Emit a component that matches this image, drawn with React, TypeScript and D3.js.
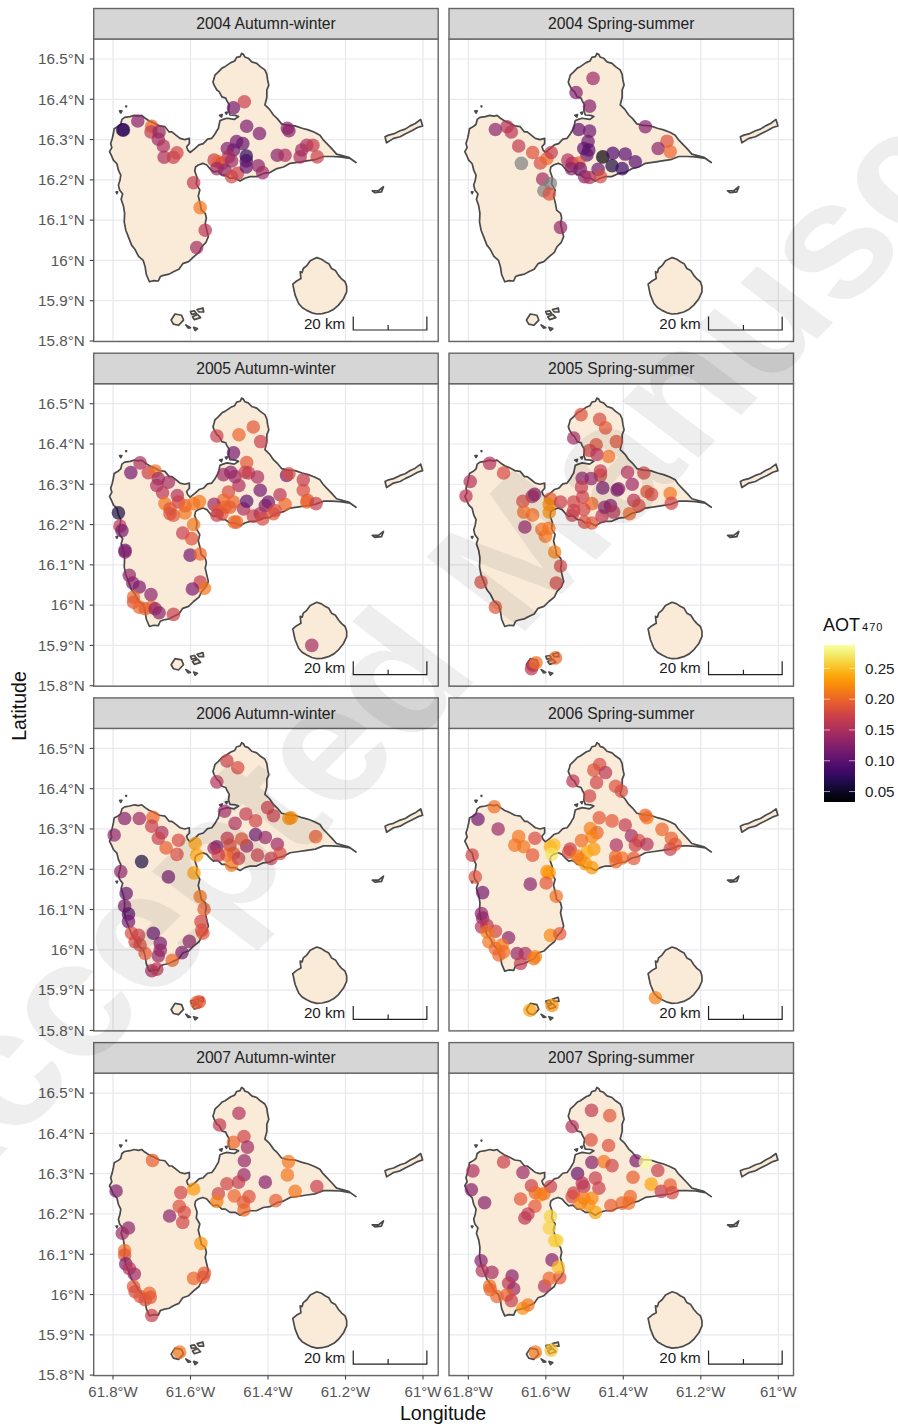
import React from "react";
import * as d3 from "d3";

type Point = [number, number, number | null];

// coastlines, lon / lat
const mainIsland: [number, number][] = [
  [-61.468,16.514],[-61.472,16.506],[-61.481,16.504],[-61.486,16.495],[-61.496,16.491],[-61.511,16.481],[-61.518,16.478],[-61.528,16.468],[-61.537,16.46],[-61.539,16.452],[-61.542,16.443],[-61.539,16.435],[-61.532,16.423],[-61.526,16.419],[-61.519,16.406],[-61.509,16.403],[-61.506,16.396],[-61.5,16.386],[-61.502,16.372],[-61.498,16.361],[-61.484,16.36],[-61.476,16.357],[-61.487,16.35],[-61.506,16.353],[-61.516,16.35],[-61.524,16.347],[-61.528,16.328],[-61.532,16.322],[-61.536,16.315],[-61.545,16.303],[-61.556,16.301],[-61.567,16.29],[-61.578,16.287],[-61.588,16.278],[-61.601,16.268],[-61.607,16.274],[-61.61,16.282],[-61.603,16.29],[-61.603,16.303],[-61.615,16.3],[-61.627,16.303],[-61.636,16.31],[-61.648,16.319],[-61.655,16.319],[-61.666,16.332],[-61.68,16.334],[-61.696,16.342],[-61.706,16.346],[-61.717,16.353],[-61.726,16.36],[-61.734,16.358],[-61.745,16.36],[-61.756,16.357],[-61.77,16.355],[-61.777,16.35],[-61.78,16.338],[-61.786,16.333],[-61.797,16.327],[-61.799,16.315],[-61.802,16.302],[-61.806,16.29],[-61.803,16.28],[-61.809,16.27],[-61.803,16.258],[-61.799,16.249],[-61.79,16.24],[-61.786,16.224],[-61.78,16.212],[-61.782,16.199],[-61.786,16.187],[-61.783,16.175],[-61.775,16.165],[-61.779,16.152],[-61.773,16.135],[-61.77,16.117],[-61.771,16.095],[-61.767,16.075],[-61.76,16.058],[-61.752,16.038],[-61.743,16.027],[-61.734,16.01],[-61.722,16],[-61.717,15.984],[-61.714,15.965],[-61.706,15.947],[-61.695,15.95],[-61.683,15.949],[-61.678,15.96],[-61.67,15.963],[-61.655,15.966],[-61.644,15.972],[-61.63,15.978],[-61.62,15.992],[-61.605,15.997],[-61.592,16.009],[-61.578,16.02],[-61.571,16.034],[-61.56,16.045],[-61.554,16.059],[-61.558,16.075],[-61.562,16.092],[-61.559,16.105],[-61.562,16.117],[-61.572,16.125],[-61.575,16.141],[-61.58,16.16],[-61.576,16.175],[-61.585,16.19],[-61.583,16.205],[-61.589,16.222],[-61.587,16.232],[-61.58,16.237],[-61.568,16.241],[-61.558,16.237],[-61.55,16.228],[-61.541,16.22],[-61.53,16.222],[-61.519,16.212],[-61.51,16.212],[-61.498,16.204],[-61.485,16.204],[-61.472,16.197],[-61.46,16.204],[-61.446,16.208],[-61.43,16.208],[-61.412,16.216],[-61.395,16.218],[-61.377,16.228],[-61.36,16.232],[-61.343,16.241],[-61.32,16.244],[-61.3,16.247],[-61.278,16.25],[-61.257,16.258],[-61.235,16.258],[-61.214,16.257],[-61.188,16.253],[-61.173,16.243],[-61.192,16.256],[-61.223,16.264],[-61.236,16.278],[-61.248,16.29],[-61.258,16.3],[-61.266,16.311],[-61.28,16.318],[-61.296,16.324],[-61.312,16.328],[-61.33,16.334],[-61.348,16.335],[-61.365,16.339],[-61.376,16.352],[-61.386,16.361],[-61.396,16.375],[-61.408,16.386],[-61.403,16.405],[-61.403,16.423],[-61.398,16.435],[-61.401,16.448],[-61.403,16.462],[-61.408,16.473],[-61.42,16.481],[-61.429,16.489],[-61.442,16.493],[-61.451,16.502],[-61.46,16.505],[-61.463,16.511],
];
const marieGalante: [number, number][] = [
  [-61.274,16.007],[-61.291,15.999],[-61.3,15.987],[-61.309,15.98],[-61.312,15.97],[-61.317,15.972],[-61.315,15.955],[-61.326,15.949],[-61.336,15.941],[-61.333,15.927],[-61.33,15.914],[-61.321,15.893],[-61.312,15.883],[-61.3,15.876],[-61.287,15.87],[-61.274,15.867],[-61.26,15.868],[-61.244,15.872],[-61.23,15.879],[-61.218,15.889],[-61.205,15.905],[-61.197,15.922],[-61.197,15.935],[-61.201,15.947],[-61.21,15.954],[-61.218,15.963],[-61.226,15.975],[-61.236,15.98],[-61.243,15.992],[-61.253,15.997],[-61.262,16.003],
];
const desirade: [number, number][] = [
  [-61.098,16.307],[-61.089,16.311],[-61.076,16.314],[-61.059,16.322],[-61.046,16.326],[-61.033,16.334],[-61.02,16.34],[-61.006,16.35],[-61.001,16.334],[-61.014,16.33],[-61.029,16.322],[-61.046,16.314],[-61.059,16.307],[-61.076,16.303],[-61.094,16.292],
];
const petiteTerre: [number, number][] = [[-61.131,16.173],[-61.115,16.173],[-61.102,16.183],[-61.107,16.17],[-61.124,16.168]];
const terreDeHaut: [number, number][] = [[-61.65,15.852],[-61.64,15.867],[-61.623,15.864],[-61.618,15.852],[-61.631,15.839],[-61.644,15.842]];
const cabrit: [number, number][] = [[-61.6,15.873],[-61.59,15.875],[-61.585,15.868],[-61.597,15.866]];
const terreDeBasNorth: [number, number][] = [[-61.583,15.878],[-61.568,15.882],[-61.566,15.872],[-61.578,15.872]];
const terreDeBasSouth: [number, number][] = [[-61.595,15.86],[-61.582,15.866],[-61.574,15.858],[-61.59,15.853]];
const iletA: [number, number][] = [[-61.612,15.84],[-61.6,15.833],[-61.606,15.832]];
const iletB: [number, number][] = [[-61.592,15.834],[-61.582,15.831],[-61.588,15.826]];
const mangroveA: [number, number][] = [[-61.525,16.36],[-61.518,16.362],[-61.52,16.356]];
const mangroveB: [number, number][] = [[-61.51,16.367],[-61.505,16.368],[-61.507,16.363]];
const rockA: [number, number][] = [[-61.783,16.371],[-61.777,16.371],[-61.78,16.366]];
const rockB: [number, number][] = [[-61.767,16.383],[-61.765,16.383],[-61.766,16.381]];
const rockC: [number, number][] = [[-61.792,16.17],[-61.788,16.17],[-61.79,16.166]];
const landShapes = [mainIsland, marieGalante, desirade, petiteTerre, terreDeHaut, cabrit, terreDeBasNorth, terreDeBasSouth, iletA, iletB, mangroveA, mangroveB, rockA, rockB, rockC];

// lon, lat, AOT (null = no value)
const aw2004: Point[] = [
  [-61.775,16.324,.085],[-61.773,16.324,.07],[-61.736,16.346,.125],[-61.7,16.333,.2],[-61.702,16.319,.165],[-61.681,16.319,.135],[-61.683,16.301,.14],[-61.67,16.284,.15],[-61.668,16.256,.15],[-61.644,16.256,.17],[-61.635,16.267,.175],
  [-61.592,16.193,.165],[-61.575,16.131,.21],[-61.562,16.075,.16],[-61.584,16.032,.145],[-61.489,16.379,.115],[-61.461,16.394,.17],[-61.455,16.333,.12],[-61.422,16.315,.12],[-61.35,16.328,.13],[-61.346,16.322,.125],
  [-61.481,16.295,.115],[-61.465,16.29,.105],[-61.505,16.278,.125],[-61.489,16.274,.11],[-61.502,16.257,.15],[-61.539,16.249,.17],[-61.528,16.245,.2],[-61.519,16.241,.18],[-61.494,16.247,.14],[-61.511,16.224,.13],[-61.532,16.228,.14],[-61.494,16.208,.18],[-61.479,16.216,.17],
  [-61.456,16.259,.07],[-61.456,16.247,.09],[-61.456,16.232,.105],[-61.425,16.235,.13],[-61.414,16.218,.14],[-61.376,16.261,.125],[-61.356,16.261,.15],[-61.317,16.257,.15],[-61.313,16.274,.145],[-61.3,16.286,.15],[-61.284,16.286,.165],[-61.273,16.257,.17],
];
const ss2004: Point[] = [
  [-61.478,16.452,.14],[-61.522,16.417,.125],[-61.487,16.383,.125],[-61.343,16.332,.125],[-61.73,16.325,.13],[-61.7,16.332,.155],[-61.689,16.319,.16],[-61.67,16.284,.165],[-61.634,16.268,.185],[-61.614,16.242,.18],[-61.597,16.253,.2],[-61.586,16.268,.165],
  [-61.663,16.241,null],[-61.608,16.202,.145],[-61.588,16.191,null],[-61.605,16.173,null],[-61.591,16.165,.185],[-61.562,16.082,.135],[-61.515,16.325,.105],[-61.487,16.321,.11],[-61.491,16.295,.11],[-61.502,16.278,.1],[-61.489,16.274,.095],[-61.494,16.262,.105],
  [-61.543,16.249,.155],[-61.532,16.241,.15],[-61.515,16.242,.19],[-61.534,16.228,.13],[-61.511,16.228,.115],[-61.5,16.208,.13],[-61.487,16.206,.15],[-61.465,16.226,.11],[-61.459,16.208,.18],
  [-61.453,16.257,.035],[-61.427,16.266,.09],[-61.429,16.235,.06],[-61.395,16.264,.095],[-61.403,16.228,.08],[-61.369,16.245,.095],[-61.287,16.296,.185],[-61.31,16.278,.13],[-61.279,16.27,.2],
];
const aw2005: Point[] = [
  [-61.73,16.353,.15],[-61.754,16.329,.115],[-61.709,16.329,.17],[-61.691,16.333,.205],[-61.683,16.314,.14],[-61.657,16.305,.145],[-61.687,16.297,.15],[-61.672,16.279,.16],[-61.634,16.272,.155],[-61.631,16.256,.17],[-61.666,16.252,.21],[-61.653,16.239,.19],[-61.644,16.223,.19],[-61.614,16.229,.21],[-61.614,16.247,.2],[-61.592,16.252,.21],[-61.577,16.257,.21],[-61.653,16.227,.185],
  [-61.786,16.229,.06],[-61.782,16.196,.16],[-61.777,16.185,.115],[-61.769,16.136,.105],[-61.769,16.132,.125],[-61.62,16.179,.17],[-61.592,16.2,.21],[-61.597,16.165,.185],[-61.601,16.124,.115],[-61.575,16.127,.2],
  [-61.758,16.074,.135],[-61.749,16.055,.125],[-61.732,16.045,.12],[-61.702,16.026,.13],[-61.747,16.02,.2],[-61.747,16.007,.19],[-61.732,15.995,.2],[-61.717,15.991,.195],[-61.7,15.995,.2],[-61.691,15.991,.13],[-61.681,15.981,.13],[-61.644,15.977,.17],
  [-61.575,16.057,.165],[-61.564,16.042,.21],[-61.595,16.04,.12],[-61.287,15.9,.145],[-61.532,16.42,.17],[-61.475,16.423,.2],[-61.438,16.442,.19],[-61.419,16.406,.17],[-61.489,16.378,.115],
  [-61.455,16.354,.19],[-61.496,16.33,.125],[-61.515,16.324,.14],[-61.485,16.319,.14],[-61.459,16.33,.17],[-61.45,16.328,.165],[-61.427,16.318,.15],[-61.475,16.297,.15],[-61.42,16.285,.115],
  [-61.502,16.281,.18],[-61.489,16.256,.2],[-61.515,16.26,.2],[-61.539,16.25,.14],[-61.528,16.235,.19],[-61.511,16.243,.2],[-61.498,16.243,.195],[-61.519,16.227,.19],[-61.532,16.223,.17],[-61.481,16.206,.2],[-61.487,16.206,.2],[-61.463,16.239,.15],
  [-61.455,16.258,.1],[-61.399,16.256,.11],[-61.407,16.247,.12],[-61.369,16.274,.16],[-61.356,16.25,.2],[-61.352,16.322,.12],[-61.346,16.326,.18],[-61.309,16.311,.165],[-61.309,16.285,.18],[-61.298,16.26,.19],[-61.3,16.256,.2],[-61.276,16.252,.17],
  [-61.438,16.221,.17],[-61.42,16.227,.15],[-61.414,16.214,.18],[-61.386,16.227,.19],[-61.382,16.235,.18],
];
const ss2005: Point[] = [
  [-61.745,16.352,.155],[-61.795,16.307,.155],[-61.806,16.271,.16],[-61.709,16.328,.18],[-61.629,16.275,.125],[-61.635,16.27,.14],[-61.659,16.258,.18],[-61.657,16.231,.205],[-61.634,16.224,.205],[-61.654,16.194,.135],
  [-61.588,16.264,.195],[-61.591,16.25,.225],[-61.591,16.231,.225],[-61.61,16.188,.205],[-61.592,16.191,.21],[-61.601,16.171,.21],[-61.577,16.132,.215],[-61.562,16.097,.175],[-61.573,16.055,.175],[-61.767,16.057,.18],[-61.73,15.995,.19],
  [-61.637,15.842,.16],[-61.634,15.85,.165],[-61.625,15.857,.205],[-61.575,15.869,.2],[-61.509,16.473,.185],[-61.461,16.461,.18],[-61.446,16.44,.19],[-61.528,16.415,.145],[-61.47,16.398,.185],[-61.418,16.406,.185],[-61.487,16.384,.175],[-61.468,16.374,.155],[-61.438,16.369,.205],
  [-61.459,16.333,.165],[-61.459,16.322,.175],[-61.389,16.33,.15],[-61.347,16.328,.175],[-61.506,16.315,.13],[-61.483,16.314,.13],[-61.508,16.293,.165],[-61.453,16.291,.115],[-61.416,16.286,.12],[-61.377,16.3,.14],[-61.412,16.289,.125],
  [-61.562,16.256,.17],[-61.528,16.256,.175],[-61.505,16.268,.17],[-61.481,16.252,.2],[-61.528,16.235,.17],[-61.502,16.237,.175],[-61.532,16.223,.17],[-61.5,16.206,.18],[-61.481,16.204,.19],[-61.455,16.221,.16],[-61.433,16.247,.125],[-61.448,16.243,.13],[-61.425,16.231,.155],
  [-61.373,16.26,.16],[-61.36,16.247,.18],[-61.384,16.227,.2],[-61.339,16.282,.19],[-61.327,16.275,.18],[-61.279,16.277,.21],[-61.276,16.253,.175],
];
const aw2006: Point[] = [
  [-61.77,16.326,.125],[-61.732,16.326,.14],[-61.697,16.329,.2],[-61.7,16.307,.17],[-61.797,16.285,.13],[-61.674,16.291,.15],[-61.683,16.277,.17],[-61.663,16.253,.195],[-61.631,16.272,.18],[-61.635,16.237,.18],[-61.726,16.219,.06],[-61.657,16.181,.115],[-61.78,16.194,.13],
  [-61.588,16.264,.235],[-61.584,16.235,.235],[-61.591,16.191,.235],[-61.766,16.14,.105],[-61.77,16.109,.12],[-61.76,16.089,.095],[-61.76,16.07,.115],[-61.575,16.132,.21],[-61.565,16.101,.195],[-61.573,16.07,.175],[-61.568,16.041,.19],[-61.571,16.049,.18],
  [-61.696,16.041,.105],[-61.678,16.016,.115],[-61.603,16.021,.13],[-61.622,15.993,.12],[-61.752,16.041,.18],[-61.734,16.036,.17],[-61.743,16.02,.18],[-61.73,16.012,.18],[-61.717,15.991,.19],[-61.678,15.999,.135],[-61.683,15.985,.135],[-61.647,15.974,.2],[-61.7,15.948,.15],[-61.687,15.952,.16],
  [-61.584,15.869,.195],[-61.577,15.871,.19],[-61.506,16.469,.17],[-61.478,16.452,.18],[-61.532,16.417,.155],[-61.512,16.344,.14],[-61.457,16.337,.165],[-61.485,16.314,.15],[-61.432,16.32,.175],[-61.401,16.353,.17],[-61.386,16.333,.17],[-61.346,16.326,.225],[-61.34,16.328,.225],
  [-61.432,16.286,.105],[-61.407,16.279,.135],[-61.376,16.262,.14],[-61.277,16.281,.195],[-61.455,16.258,.14],[-61.427,16.235,.17],[-61.392,16.227,.165],[-61.369,16.239,.18],[-61.468,16.275,.19],[-61.505,16.277,.165],[-61.532,16.256,.12],[-61.539,16.252,.14],[-61.498,16.26,.18],[-61.489,16.239,.19],[-61.506,16.235,.2],[-61.494,16.21,.21],[-61.476,16.227,.17],[-61.528,16.235,.17],
];
const ss2006: Point[] = [
  [-61.733,16.355,.205],[-61.775,16.324,.11],[-61.723,16.3,.14],[-61.79,16.235,.175],[-61.782,16.181,.185],[-61.763,16.142,.115],[-61.67,16.281,.21],[-61.68,16.26,.21],[-61.657,16.256,.21],[-61.628,16.277,.18],[-61.634,16.235,.19],[-61.64,16.163,.13],
  [-61.588,16.256,.24],[-61.579,16.26,.25],[-61.585,16.237,.27],[-61.597,16.194,.225],[-61.591,16.191,.23],[-61.599,16.166,.19],[-61.573,16.133,.205],[-61.766,16.09,.135],[-61.763,16.079,.13],[-61.766,16.057,.155],[-61.752,16.061,.16],[-61.73,16.046,.175],[-61.752,16.045,.21],[-61.696,16.03,.13],[-61.747,16.02,.21],[-61.73,16.003,.2],[-61.713,16.012,.21],[-61.721,15.987,.2],[-61.709,15.995,.205],
  [-61.674,15.991,.135],[-61.653,15.991,.15],[-61.665,15.966,.165],[-61.631,15.978,.21],[-61.627,15.983,.215],[-61.588,16.036,.22],[-61.564,16.04,.19],[-61.641,15.85,.235],[-61.584,15.862,.225],[-61.317,15.881,.215],
  [-61.461,16.46,.18],[-61.476,16.446,.185],[-61.446,16.44,.16],[-61.53,16.419,.16],[-61.469,16.415,.175],[-61.42,16.406,.185],[-61.405,16.394,.18],[-61.487,16.382,.175],[-61.462,16.328,.19],[-61.429,16.32,.19],[-61.395,16.31,.165],[-61.339,16.328,.21],[-61.343,16.334,.2],[-61.3,16.299,.2],[-61.379,16.283,.145],[-61.36,16.271,.18],[-61.369,16.26,.17],[-61.339,16.262,.155],
  [-61.485,16.301,.215],[-61.468,16.291,.2],[-61.481,16.281,.22],[-61.508,16.271,.205],[-61.537,16.25,.17],[-61.541,16.243,.18],[-61.476,16.25,.23],[-61.494,16.243,.24],[-61.418,16.26,.15],[-61.42,16.231,.2],[-61.403,16.228,.205],[-61.419,16.219,.2],[-61.373,16.227,.19],[-61.276,16.277,.195],[-61.279,16.25,.17],[-61.266,16.262,.19],[-61.511,16.225,.225],[-61.498,16.214,.225],[-61.481,16.204,.23],[-61.519,16.233,.21],
];
const aw2007: Point[] = [
  [-61.698,16.333,.195],[-61.792,16.257,.12],[-61.625,16.253,.175],[-61.592,16.262,.23],[-61.629,16.219,.185],[-61.616,16.204,.18],[-61.62,16.179,.175],[-61.654,16.195,.13],[-61.76,16.165,.13],[-61.776,16.152,.14],[-61.573,16.127,.225],[-61.77,16.109,.205],[-61.77,16.098,.19],[-61.767,16.076,.12],[-61.758,16.065,.16],[-61.745,16.051,.14],
  [-61.747,16.02,.19],[-61.743,16.007,.18],[-61.73,15.995,.19],[-61.717,15.987,.18],[-61.706,16.003,.2],[-61.704,15.993,.19],[-61.7,15.948,.17],[-61.592,16.04,.2],[-61.564,16.053,.19],[-61.567,16.043,.19],[-61.628,15.857,.21],
  [-61.475,16.45,.155],[-61.525,16.421,.165],[-61.489,16.378,.2],[-61.462,16.392,.175],[-61.453,16.366,.145],[-61.461,16.332,.135],[-61.462,16.297,.135],[-61.407,16.279,.125],[-61.347,16.33,.21],[-61.35,16.297,.21],[-61.33,16.256,.21],[-61.274,16.268,.17],
  [-61.506,16.275,.175],[-61.476,16.279,.165],[-61.528,16.25,.175],[-61.532,16.231,.215],[-61.487,16.245,.2],[-61.449,16.243,.185],[-61.463,16.229,.19],[-61.462,16.21,.2],[-61.38,16.233,.195],
];
const ss2007: Point[] = [
  [-61.482,16.457,.165],[-61.435,16.444,.19],[-61.532,16.417,.155],[-61.483,16.384,.185],[-61.438,16.37,.185],[-61.788,16.307,.15],[-61.709,16.329,.17],[-61.659,16.303,.14],[-61.792,16.26,.125],[-61.758,16.228,.125],[-61.481,16.328,.125],[-61.45,16.33,.21],[-61.429,16.32,.175],[-61.367,16.332,.12],[-61.343,16.329,.285],[-61.311,16.308,.17],[-61.518,16.3,.105],
  [-61.637,16.27,.17],[-61.588,16.268,.17],[-61.665,16.237,.19],[-61.628,16.219,.19],[-61.627,16.253,.2],[-61.605,16.25,.205],[-61.614,16.247,.215],[-61.646,16.2,.165],[-61.654,16.19,.16],
  [-61.472,16.289,.17],[-61.506,16.277,.16],[-61.502,16.268,.16],[-61.463,16.264,.17],[-61.528,16.252,.17],[-61.532,16.243,.18],[-61.502,16.239,.21],[-61.481,16.239,.22],[-61.489,16.223,.225],[-61.472,16.204,.235],[-61.511,16.227,.22],
  [-61.375,16.291,.195],[-61.328,16.274,.235],[-61.432,16.221,.195],[-61.403,16.227,.2],[-61.382,16.243,.2],[-61.386,16.227,.205],[-61.302,16.256,.165],[-61.279,16.272,.195],[-61.274,16.253,.18],
  [-61.588,16.194,.26],[-61.591,16.165,.26],[-61.577,16.134,.255],[-61.571,16.134,.26],[-61.767,16.084,.125],[-61.584,16.086,.125],[-61.764,16.059,.155],[-61.739,16.055,.145],[-61.687,16.046,.125],[-61.696,16.028,.16],[-61.683,16.014,.14],[-61.603,16.021,.155],[-61.591,16.04,.2],[-61.564,16.042,.19],[-61.567,16.068,.25],
  [-61.745,16.021,.205],[-61.743,16.012,.2],[-61.726,15.995,.2],[-61.7,15.999,.195],[-61.689,15.985,.17],[-61.659,15.966,.225],[-61.646,15.974,.21],[-61.627,15.857,.21],[-61.586,15.862,.25],
];

const panelNames = [
  "2004 Autumn-winter", "2004 Spring-summer",
  "2005 Autumn-winter", "2005 Spring-summer",
  "2006 Autumn-winter", "2006 Spring-summer",
  "2007 Autumn-winter", "2007 Spring-summer",
];
const panelPoints = [aw2004, ss2004, aw2005, ss2005, aw2006, ss2006, aw2007, ss2007];
const lonTicks = [-61.8, -61.6, -61.4, -61.2, -61];
const lonTickLabels = ["61.8°W", "61.6°W", "61.4°W", "61.2°W", "61°W"];
const latTicks = [16.5, 16.4, 16.3, 16.2, 16.1, 16, 15.9, 15.8];
const latTickLabels = ["16.5°N", "16.4°N", "16.3°N", "16.2°N", "16.1°N", "16°N", "15.9°N", "15.8°N"];
const legendTicks = [0.05, 0.1, 0.15, 0.2, 0.25];
const aotRange = [0.033, 0.288];
const scaleBarLon = [-61.18, -61.09, -60.99];

const width = 898;
const height = 1427;
const font = "'Liberation Sans', Arial, sans-serif";
const panelW = 344.5;
const panelH = 302.5;
const colX = [93.7, 449];
const rowY = [39, 383.7, 728.4, 1073.1];
const stripH = 30.5;

const colour = d3.scaleSequential(d3.interpolateInferno).domain(aotRange as [number, number]);
const legendY = d3.scaleLinear().domain(aotRange).range([802, 645]);
const legendStops = d3.range(0, 1.001, 0.05);

const line = d3.line<[number, number]>().curve(d3.curveLinearClosed);

const Panel: React.FC<{ index: number }> = ({ index }) => {
  const col = index % 2;
  const row = Math.floor(index / 2);
  const left = colX[col];
  const top = rowY[row];
  const x = d3.scaleLinear().domain([-61.8, -61]).range([left + 19.3, left + 329.3]);
  const y = d3.scaleLinear().domain([16.5, 15.8]).range([top + 20, top + 302]);
  const project = line.x((d) => x(d[0])).y((d) => y(d[1]));
  const barTop = top + 277.5;
  const barBottom = top + 291;

  return (
    <g>
      {/* grid */}
      {lonTicks.map((t) => (
        <line key={t} x1={x(t)} x2={x(t)} y1={top} y2={top + panelH} stroke="#e6e8ee" strokeWidth={1.2} />
      ))}
      {latTicks.map((t) => (
        <line key={t} x1={left} x2={left + panelW} y1={y(t)} y2={y(t)} stroke="#e9e9ee" strokeWidth={1.2} />
      ))}
      {landShapes.map((shape, i) => (
        <path key={i} d={project(shape) || ""} fill="#faebd9" stroke="#4a4a4a" strokeWidth={1.7} strokeLinejoin="round" />
      ))}
      {panelPoints[index].map((p, i) => (
        <circle
          key={i}
          cx={x(p[0])}
          cy={y(p[1])}
          r={6.8}
          fill={p[2] === null ? "#7f7f7f" : colour(p[2])}
          fillOpacity={0.7}
        />
      ))}
      {/* scale bar */}
      <path
        d={`M${x(scaleBarLon[0])},${barTop}V${barBottom}H${x(scaleBarLon[2])}V${barTop}M${x(scaleBarLon[1])},${barBottom}V${barBottom - 5}`}
        fill="none"
        stroke="#222"
        strokeWidth={1.2}
      />
      <text x={x(scaleBarLon[0]) - 8} y={top + 289.5} fontSize={15.2} fontFamily={font} textAnchor="end" fill="#1a1a1a">
        20 km
      </text>
      <rect x={left} y={top} width={panelW} height={panelH} fill="none" stroke="#666" strokeWidth={1.4} />
      {/* strip */}
      <rect x={left} y={top - stripH} width={panelW} height={stripH} fill="#d6d6d6" stroke="#666" strokeWidth={1.4} />
      <text
        x={left + panelW / 2}
        y={top - stripH / 2 + 5.4}
        fontSize={15.7}
        fontFamily={font}
        textAnchor="middle"
        fill="#222"
      >
        {panelNames[index]}
      </text>
      {/* axes */}
      {col === 0 &&
        latTicks.map((t, i) => (
          <g key={t}>
            <line x1={left - 4} x2={left} y1={y(t)} y2={y(t)} stroke="#444" strokeWidth={1.1} />
            <text x={left - 9} y={y(t) + 5.3} fontSize={15.2} fontFamily={font} textAnchor="end" fill="#555">
              {latTickLabels[i]}
            </text>
          </g>
        ))}
      {row === 3 &&
        lonTicks.map((t, i) => (
          <g key={t}>
            <line x1={x(t)} x2={x(t)} y1={top + panelH} y2={top + panelH + 4} stroke="#444" strokeWidth={1.1} />
            <text x={x(t)} y={top + panelH + 21} fontSize={15} fontFamily={font} textAnchor="middle" fill="#555">
              {lonTickLabels[i]}
            </text>
          </g>
        ))}
    </g>
  );
};

const App: React.FC = () => (
  <svg
    width={width}
    height={height}
    viewBox={`0 0 ${width} ${height}`}
    style={{ position: "absolute", left: 0, top: 0, background: "#fff" }}
  >
    <defs>
      <linearGradient id="aotBar" x1="0" x2="0" y1="1" y2="0">
        {legendStops.map((t) => (
          <stop key={t} offset={t} stopColor={d3.interpolateInferno(t)} />
        ))}
      </linearGradient>
    </defs>
    {panelNames.map((_, i) => (
      <Panel key={i} index={i} />
    ))}
    <text x={443} y={1420} fontSize={19.6} fontFamily={font} textAnchor="middle" fill="#111">
      Longitude
    </text>
    <text
      transform="translate(26,706) rotate(-90)"
      fontSize={19.6}
      fontFamily={font}
      textAnchor="middle"
      fill="#111"
    >
      Latitude
    </text>
    {/* legend */}
    <text x={823} y={631} fontSize={18} fontFamily={font} fill="#111">
      AOT
      <tspan fontSize={11} dx={2} letterSpacing={1}>
        470
      </tspan>
    </text>
    <rect x={824} y={645} width={31} height={157} fill="url(#aotBar)" />
    {legendTicks.map((t) => (
      <g key={t}>
        <line x1={824} x2={830} y1={legendY(t)} y2={legendY(t)} stroke="#fff" strokeOpacity={0.6} />
        <line x1={849} x2={855} y1={legendY(t)} y2={legendY(t)} stroke="#fff" strokeOpacity={0.6} />
        <text x={865} y={legendY(t) + 5.3} fontSize={15.2} fontFamily={font} fill="#222">
          {t.toFixed(2)}
        </text>
      </g>
    ))}
    {/* watermark */}
    <text
      transform="translate(551,605) scale(1.15,1) rotate(-49)"
      fontSize={165}
      fontWeight="bold"
      fontFamily={font}
      textAnchor="middle"
      fill="#000"
      fillOpacity={0.065}
    >
      Accepted Manuscript
    </text>
  </svg>
);

export default App;
